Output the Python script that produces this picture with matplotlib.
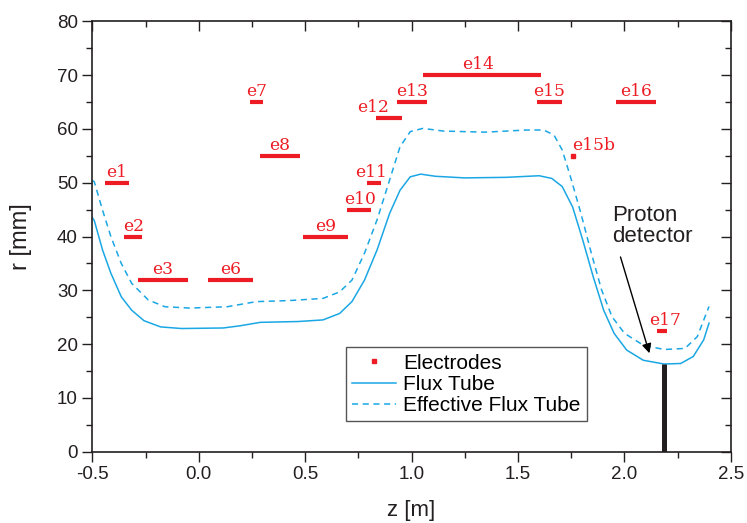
import numpy as np
import matplotlib
matplotlib.use("Agg")
import matplotlib.pyplot as plt
from matplotlib.ticker import MultipleLocator, FormatStrFormatter

# Elektroden: Name, z-Anfang, z-Ende [m], Radius [mm]
elektrodenNamen = ["e1", "e2", "e3", "e6", "e7", "e8", "e9", "e10", "e11",
                   "e12", "e13", "e14", "e15", "e16", "e17"]
elektrodenStart = [-0.44, -0.35, -0.285, 0.045, 0.24, 0.29, 0.49, 0.695, 0.79,
                   0.835, 0.933, 1.054, 1.588, 1.96, 2.152]
elektrodenEnde = [-0.33, -0.265, -0.05, 0.255, 0.304, 0.475, 0.703, 0.81, 0.855,
                  0.954, 1.074, 1.608, 1.708, 2.148, 2.2]
elektrodenR = [50, 40, 32, 32, 65, 55, 40, 45, 50, 62, 65, 70, 65, 65, 22.5]

# Einzelne kleine Elektrode e15b
e15bZ = 1.76
e15bR = 55

# Flussschlauch (durchgezogen)
fluxZ = [-0.5, -0.491, -0.452, -0.413, -0.364, -0.315, -0.257, -0.179, -0.081,
         0.115, 0.193, 0.29, 0.467, 0.584, 0.662, 0.72, 0.779, 0.838, 0.897,
         0.946, 0.994, 1.043, 1.112, 1.249, 1.444, 1.6, 1.659, 1.708, 1.757,
         1.805, 1.854, 1.903, 1.952, 2.011, 2.089, 2.187, 2.265, 2.324, 2.373,
         2.398]
fluxR = [43.5, 43.0, 37.5, 33.2, 28.8, 26.3, 24.35, 23.2, 22.9,
         23.0, 23.4, 24.05, 24.2, 24.5, 25.7, 27.9, 31.9, 37.5, 44.3,
         48.6, 51.1, 51.6, 51.2, 50.9, 51.0, 51.3, 50.8, 49.3, 45.5,
         39.3, 32.5, 26.3, 22.0, 18.9, 17.0, 16.3, 16.4, 17.7, 20.8,
         23.9]

# Effektiver Flussschlauch (gestrichelt)
effZ = [-0.5, -0.491, -0.452, -0.413, -0.364, -0.315, -0.237, -0.159, -0.042,
        0.134, 0.271, 0.428, 0.584, 0.662, 0.72, 0.779, 0.838, 0.897, 0.946,
        0.994, 1.053, 1.151, 1.346, 1.542, 1.62, 1.669, 1.708, 1.747, 1.796,
        1.845, 1.893, 1.942, 2.001, 2.089, 2.187, 2.285, 2.343, 2.398]
effR = [50.4, 50.2, 44.9, 40.0, 35.0, 31.3, 28.2, 26.95, 26.7,
        26.95, 27.9, 28.1, 28.5, 29.7, 31.9, 36.9, 43.1, 50.5, 56.7,
        59.5, 60.1, 59.6, 59.4, 59.8, 59.8, 58.9, 56.1, 51.1, 44.3,
        36.9, 30.1, 25.1, 22.0, 19.8, 19.0, 19.2, 21.4, 27.0]

# Protonendetektor
detektorZ = 2.186
detektorR = 16.3

rot = "#ed1c24"
blau = "#1aa7e4"
dunkel = "#231f20"

plt.rcParams["font.family"] = ["Liberation Sans", "DejaVu Sans"]

fig = plt.figure(figsize=(7.47, 5.23), dpi=100)
ax = fig.add_axes([0.1236, 0.1363, 0.8546, 0.8229])

# Kurven
ax.plot(fluxZ, fluxR, color=blau, lw=1.1, label="Flux Tube",
        solid_joinstyle="round")
ax.plot(effZ, effR, color=blau, lw=1.1, ls=(0, (4, 3)),
        label="Effective Flux Tube", dash_joinstyle="round")

# Elektroden als Balken
ax.hlines(elektrodenR, elektrodenStart, elektrodenEnde, color=rot, lw=3)
ax.plot([e15bZ], [e15bR], ls="none", marker="s", ms=3, color=rot,
        label="Electrodes")

# Beschriftungen der Elektroden
sonderPos = {"e10": (0.76, 45), "e11": (0.812, 50), "e12": (0.818, 62),
             "e14": (1.314, 70), "e17": (2.19, 22.5)}
for name, a, b, r in zip(elektrodenNamen, elektrodenStart, elektrodenEnde, elektrodenR):
    x, y = sonderPos.get(name, ((a + b) / 2, r))
    ax.text(x, y + 1.1, name, color=rot, ha="center", va="baseline",
            family="DejaVu Serif", fontsize=12.3)
ax.text(1.753, 56.1, "e15b", color=rot, ha="left", va="baseline",
        family="DejaVu Serif", fontsize=12.3)

# Detektor
ax.vlines(detektorZ, 0, detektorR, color=dunkel, lw=3.6, zorder=4)
ax.text(1.942, 39.0, "Proton\ndetector", ha="left", va="baseline",
        fontsize=16, color=dunkel, linespacing=1.0)
ax.annotate("", xy=(2.118, 18.3), xytext=(1.982, 36.2),
            arrowprops=dict(arrowstyle="-|>", color="black", lw=1.0,
                            mutation_scale=14, shrinkA=0, shrinkB=0))

ax.set_xlim(-0.5, 2.5)
ax.set_ylim(0, 80)
ax.xaxis.set_major_locator(MultipleLocator(0.5))
ax.xaxis.set_minor_locator(MultipleLocator(0.25))
ax.yaxis.set_major_locator(MultipleLocator(10))
ax.yaxis.set_minor_locator(MultipleLocator(5))
ax.xaxis.set_major_formatter(FormatStrFormatter("%.1f"))

ax.tick_params(which="both", direction="out", colors=dunkel, labelsize=13.5,
               top=False, right=False, width=1)
ax.tick_params(which="major", length=7)
ax.tick_params(which="minor", length=4)
for s in ax.spines.values():
    s.set_color(dunkel)
    s.set_linewidth(1.2)

# Innen liegende Striche oben und rechts
sek = ax.secondary_xaxis("top")
sek.xaxis.set_major_locator(MultipleLocator(0.5))
sek.xaxis.set_minor_locator(MultipleLocator(0.25))
sek.tick_params(which="both", direction="in", labeltop=False, colors=dunkel, width=1)
sek.tick_params(which="major", length=7)
sek.tick_params(which="minor", length=4)
sek.spines["top"].set_visible(False)
sekY = ax.secondary_yaxis("right")
sekY.yaxis.set_major_locator(MultipleLocator(10))
sekY.yaxis.set_minor_locator(MultipleLocator(5))
sekY.tick_params(which="both", direction="in", labelright=False, colors=dunkel, width=1)
sekY.tick_params(which="major", length=7)
sekY.tick_params(which="minor", length=4)
sekY.spines["right"].set_visible(False)

ax.set_xlabel("z [m]", fontsize=16, color=dunkel, labelpad=12)
ax.set_ylabel("r [mm]", fontsize=17, color=dunkel, labelpad=18)

# Legende in der Reihenfolge des Originals
handles, labels = ax.get_legend_handles_labels()
ordnung = [labels.index("Electrodes"), labels.index("Flux Tube"),
           labels.index("Effective Flux Tube")]
leg = ax.legend([handles[i] for i in ordnung], [labels[i] for i in ordnung],
                loc="lower left", bbox_to_anchor=(0.397, 0.071),
                borderaxespad=0, fontsize=15, fancybox=False, framealpha=1,
                edgecolor="#555555", handlelength=2.1, handletextpad=0.35,
                labelspacing=0.1, borderpad=0.3)
leg.get_frame().set_linewidth(1.0)

fig.savefig("out.png", dpi=100)
